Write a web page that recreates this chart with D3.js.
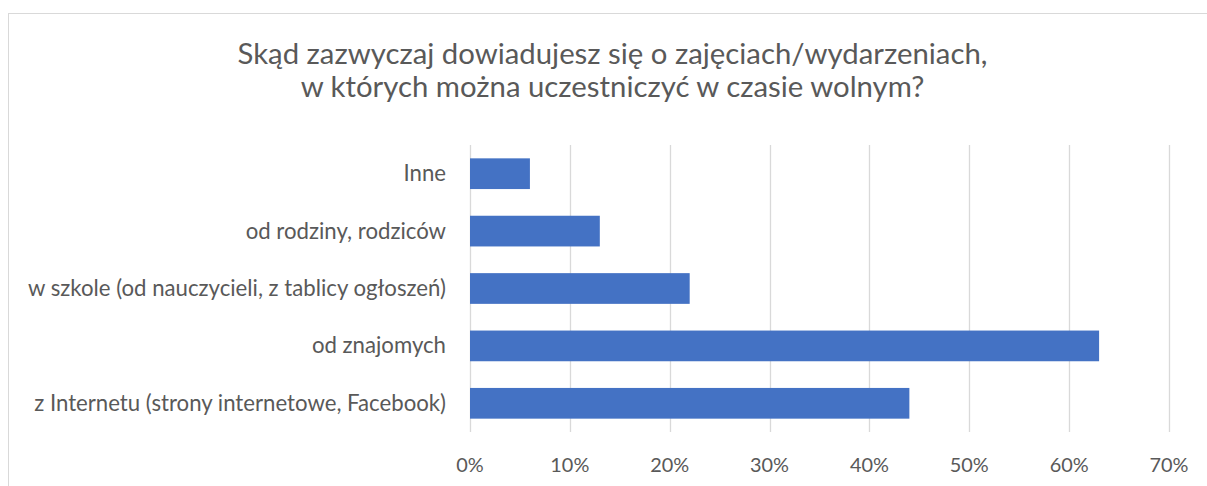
<!DOCTYPE html>
<html>
<head>
<meta charset="utf-8">
<script src="https://cdn.jsdelivr.net/npm/d3@7/dist/d3.min.js"></script>
<style>
  html, body { margin: 0; padding: 0; background: #fff; }
  svg { display: block; }
  text { font-family: Lato, "Open Sans", sans-serif; fill: #595959; }
</style>
</head>
<body>
<svg id="chart" width="1207" height="486"></svg>
<script>
const titleLines = [
  "Skąd zazwyczaj dowiadujesz się o zajęciach/wydarzeniach,",
  "w których można uczestniczyć w czasie wolnym?"
];
const categories = [
  "Inne",
  "od rodziny, rodziców",
  "w szkole (od nauczycieli, z tablicy ogłoszeń)",
  "od znajomych",
  "z Internetu (strony internetowe, Facebook)"
];
const values = [0.06, 0.13, 0.22, 0.63, 0.44];
const tickValues = [0, 0.1, 0.2, 0.3, 0.4, 0.5, 0.6, 0.7];

const svg = d3.select("#chart");
const W = 1207, H = 486;

// chart border (extends beyond the right/bottom edges)
svg.append("rect")
  .attr("x", 8.5).attr("y", 13.5)
  .attr("width", W + 10).attr("height", H + 10)
  .attr("fill", "#fff").attr("stroke", "#d9d9d9").attr("stroke-width", 1);

const x = d3.scaleLinear().domain([0, 0.7]).range([470, 1169]);
const y = d3.scaleBand().domain(categories).range([145, 432])
  .paddingInner(0.465).paddingOuter(0.2325);

// gridlines
svg.append("g").selectAll("line").data(tickValues).join("line")
  .attr("x1", d => Math.round(x(d)) + 0.5).attr("x2", d => Math.round(x(d)) + 0.5)
  .attr("y1", 145).attr("y2", 432)
  .attr("stroke", "#d9d9d9").attr("stroke-width", 1.3);

// bars
svg.append("g").selectAll("rect").data(categories).join("rect")
  .attr("x", x(0))
  .attr("y", d => y(d))
  .attr("width", (d, i) => x(values[i]) - x(0))
  .attr("height", y.bandwidth())
  .attr("fill", "#4472C4");

// helper: fit font size so text reaches target width
function fitFont(sel, target, base) {
  sel.style("font-size", base + "px");
  const w = sel.node().getComputedTextLength();
  sel.style("font-size", (base * target / w) + "px");
}

// category labels
const labG = svg.append("g");
const labs = labG.selectAll("text").data(categories).join("text")
  .attr("x", 446)
  .attr("y", d => y(d) + y.bandwidth() / 2 + 7.4)
  .attr("text-anchor", "end")
  .text(d => d);
{
  const longest = labs.filter(d => d === categories[2]);
  fitFont(longest, 418, 20);
  const fs = longest.style("font-size");
  labs.style("font-size", fs);
}

// x axis tick labels
const ticks = svg.append("g").selectAll("text").data(tickValues).join("text")
  .attr("x", d => x(d))
  .attr("y", 471.5)
  .attr("text-anchor", "middle")
  .text(d => d3.format(".0%")(d));
{
  const t = ticks.filter(d => d === 0.1);
  fitFont(t, 39, 20);
  ticks.style("font-size", t.style("font-size"));
}

// title
const tl = svg.append("g").selectAll("text").data(titleLines).join("text")
  .attr("x", 612.5)
  .attr("y", (d, i) => 64 + i * 32.7)
  .attr("text-anchor", "middle")
  .text(d => d);
{
  const t0 = tl.filter((d, i) => i === 0);
  fitFont(t0, 750, 26);
  tl.style("font-size", t0.style("font-size"));
}
</script>
</body>
</html>
